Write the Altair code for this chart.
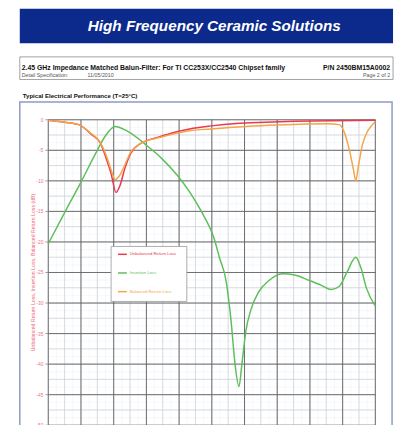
import altair as alt
import pandas as pd
import numpy as np

# ---------------- data ----------------
series_names = ["Unbalanced Return Loss", "Insertion Loss", "Balanced Return Loss"]
series_colors = ["#e8394f", "#5cbf5a", "#f5a447"]

url_freq = [0.50, 0.83, 1.43, 1.82, 2.09, 2.27, 2.42, 2.57, 2.69, 2.84, 3.02, 3.29,
            3.47, 3.83, 4.34, 4.82, 5.48, 6.24, 7.14, 8.04, 9.24, 10.50]
url_db = [-0.1, -0.3, -0.8, -2.4, -3.8, -6.3, -8.8, -11.9, -10.8, -8.0, -5.5, -4.0,
          -3.5, -2.9, -2.1, -1.5, -1.0, -0.6, -0.4, -0.25, -0.15, -0.1]

il_freq = [0.50, 1.04, 1.52, 1.94, 2.24, 2.54, 2.93, 3.53, 3.98, 4.43, 4.82, 5.18, 5.58,
           5.73, 5.94, 6.09, 6.21, 6.33, 6.42, 6.54, 6.69, 6.93, 7.23, 7.65, 8.04,
           8.43, 8.85, 9.15, 9.39, 9.63, 9.90, 10.05, 10.23, 10.50]
il_db = [-20.3, -14.8, -10.0, -5.6, -2.7, -1.1, -1.9, -4.3, -6.4, -9.0, -11.8, -15.0, -19.6,
         -22.5, -26.5, -33.0, -40.0, -43.7, -40.0, -34.6, -31.2, -28.2, -26.4, -25.2, -25.4,
         -26.2, -27.1, -27.8, -27.3, -25.0, -22.5, -24.1, -27.6, -30.5]

brl_freq = [0.50, 0.83, 1.43, 1.82, 2.09, 2.27, 2.42, 2.54, 2.66, 2.84, 3.02, 3.29,
            3.47, 3.83, 4.34, 4.82, 5.48, 6.54, 7.53, 9.03, 9.39, 9.54, 9.69, 9.84,
            9.90, 9.99, 10.11, 10.23, 10.38, 10.50]
brl_db = [-0.1, -0.3, -0.8, -2.3, -3.7, -5.8, -8.2, -9.8, -9.3, -7.4, -5.3, -4.0,
          -3.5, -3.0, -2.3, -1.8, -1.5, -1.1, -0.85, -0.65, -0.8, -1.9, -4.6, -8.4,
          -10.0, -7.3, -4.0, -2.2, -1.0, -0.3]

x_ticks = [0.5, 1.5, 2.5, 3.5, 4.5, 5.5, 6.5, 7.5, 8.5, 9.5, 10.5]
y_ticks = [0, -5, -10, -15, -20, -25, -30, -35, -40, -45, -50]

banner_text = "High Frequency Ceramic Solutions"
spec_title = "2.45 GHz Impedance Matched Balun-Filter: For TI CC253X/CC2540 Chipset family"
spec_pn = "P/N 2450BM15A0002"
spec_detail = "Detail Specification:"
spec_date = "11/05/2010"
spec_page = "Page 2 of 2"
section_title = "Typical Electrical Performance (T=25\u00b0C)"
y_title = "Unbalanced Return Loss, Insertion Loss, Balanced Return Loss (dB)"

# ---------------- build tables ----------------
rows = []
for name, fr, db in [(series_names[0], url_freq, url_db),
                     (series_names[1], il_freq, il_db),
                     (series_names[2], brl_freq, brl_db)]:
    for f, d in zip(fr, db):
        rows.append({"series": name, "freq": f, "db": d})
df = pd.DataFrame(rows)

W = 333          # plot width
H = 311          # full plot height (0 .. -50 dB)
VIEW_H = 307     # part of the chart that fits inside the page
XD = [0.5, 10.5]
YD = [-50, 0]
FONT = "Liberation Sans"

xs = alt.Scale(domain=XD, nice=False, zero=False)
ys = alt.Scale(domain=YD, nice=False, zero=False, range=[H, 0])

one = pd.DataFrame({"k": [0]})


def vgrid(vals, color, width):
    return alt.Chart(pd.DataFrame({"v": vals})).mark_rule(color=color, strokeWidth=width).encode(
        x=alt.X("v:Q", scale=xs, axis=None), y=alt.value(0), y2=alt.value(H))


def hgrid(vals, color, width):
    return alt.Chart(pd.DataFrame({"v": vals})).mark_rule(color=color, strokeWidth=width).encode(
        y=alt.Y("v:Q", scale=ys, axis=None), x=alt.value(0), x2=alt.value(W))


xq = list(np.arange(0.5, 10.51, 0.25))
yq = list(np.arange(-50, 0.01, 1.25))
xh = list(np.arange(0.5, 10.51, 0.5))
yh = list(np.arange(-50, 0.01, 2.5))

grid = [
    vgrid(xq, "#edf0f5", 0.5), hgrid(yq, "#edf0f5", 0.5),
    vgrid(xh, "#c9cfd9", 0.7), hgrid(yh, "#c9cfd9", 0.7),
    vgrid(x_ticks, "#606060", 0.9), hgrid(y_ticks, "#606060", 0.9),
]

# axes drawn by hand (ticks, labels, title)
ydf = pd.DataFrame({"v": y_ticks, "lab": [str(v) for v in y_ticks]})
xdf = pd.DataFrame({"v": x_ticks, "lab": ["%.2f" % v for v in x_ticks]})
axes = [
    alt.Chart(ydf).mark_rule(color="#888", strokeWidth=0.8).encode(
        y=alt.Y("v:Q", scale=ys, axis=None), x=alt.value(-3), x2=alt.value(0)),
    alt.Chart(ydf).mark_text(color="#f07585", fontSize=5, font=FONT, align="right",
                             baseline="middle").encode(
        y=alt.Y("v:Q", scale=ys, axis=None), x=alt.value(-5), text="lab:N"),
    alt.Chart(xdf).mark_rule(color="#999", strokeWidth=0.8).encode(
        x=alt.X("v:Q", scale=xs, axis=None), y=alt.value(H), y2=alt.value(H + 3)),
    alt.Chart(xdf).mark_text(color="#aaa", fontSize=5, font=FONT, align="center",
                             baseline="top").encode(
        x=alt.X("v:Q", scale=xs, axis=None), y=alt.value(H + 4), text="lab:N"),
    alt.Chart(one).mark_text(text=y_title, color="#ee6677", fontSize=5.3, font=FONT, angle=270,
                             align="center", baseline="middle").encode(
        x=alt.value(-16), y=alt.value(H / 2)),
]

lines = alt.Chart(df).mark_line(interpolate="monotone", strokeWidth=1.5).encode(
    x=alt.X("freq:Q", scale=xs, axis=None),
    y=alt.Y("db:Q", scale=ys, axis=None),
    color=alt.Color("series:N", scale=alt.Scale(domain=series_names, range=series_colors),
                    legend=None),
    order=alt.Order("freq:Q"),
)

# legend box (manual)
LX, LY, LX2, LY2 = 64, 129, 141, 185
legend_layers = [
    alt.Chart(one).mark_rect(fill="white", stroke="#9a9a9a", strokeWidth=0.8).encode(
        x=alt.value(LX), x2=alt.value(LX2), y=alt.value(LY), y2=alt.value(LY2))
]
for i, (nm, col) in enumerate(zip(series_names, series_colors)):
    yy = 137 + i * 19
    legend_layers.append(
        alt.Chart(one).mark_rule(color=col, strokeWidth=1.5).encode(
            x=alt.value(71), x2=alt.value(80), y=alt.value(yy)))
    legend_layers.append(
        alt.Chart(one).mark_text(text=nm, color=col, fontSize=4.3, font=FONT,
                                 align="left", baseline="middle").encode(
            x=alt.value(83), y=alt.value(yy)))

# page decorations (relative to plot origin at page 49,118)
deco = [
    alt.Chart(one).mark_rect(fill="none", stroke="#8c9cc2", strokeWidth=1.5).encode(
        x=alt.value(-29), x2=alt.value(350), y=alt.value(-18), y2=alt.value(420)),
    alt.Chart(one).mark_rect(fill="#0b2a8c").encode(
        x=alt.value(-29), x2=alt.value(351), y=alt.value(-113), y2=alt.value(-78)),
    alt.Chart(one).mark_text(text=banner_text, color="white", fontSize=15.5, fontWeight="bold",
                             fontStyle="italic", font=FONT, align="center", baseline="middle").encode(
        x=alt.value(169), y=alt.value(-95)),
    alt.Chart(one).mark_rect(fill="none", stroke="#8a8a8a", strokeWidth=0.8).encode(
        x=alt.value(-29), x2=alt.value(351), y=alt.value(-64), y2=alt.value(-41)),
    alt.Chart(one).mark_text(text=spec_title, color="#111", fontSize=7.0, fontWeight="bold",
                             font=FONT, align="left", baseline="middle").encode(
        x=alt.value(-27), y=alt.value(-53)),
    alt.Chart(one).mark_text(text=spec_pn, color="#111", fontSize=7.0, fontWeight="bold",
                             font=FONT, align="right", baseline="middle").encode(
        x=alt.value(348), y=alt.value(-53)),
    alt.Chart(one).mark_text(text=spec_detail, color="#555", fontSize=5.4,
                             font=FONT, align="left", baseline="middle").encode(
        x=alt.value(-27), y=alt.value(-46)),
    alt.Chart(one).mark_text(text=spec_date, color="#555", fontSize=5.4,
                             font=FONT, align="left", baseline="middle").encode(
        x=alt.value(40), y=alt.value(-46)),
    alt.Chart(one).mark_text(text=spec_page, color="#555", fontSize=5.4,
                             font=FONT, align="right", baseline="middle").encode(
        x=alt.value(348), y=alt.value(-46)),
    alt.Chart(one).mark_text(text=section_title, color="#111", fontSize=6.2, fontWeight="bold",
                             font=FONT, align="left", baseline="middle").encode(
        x=alt.value(-26), y=alt.value(-24)),
]

chart = alt.layer(*deco, *grid, *axes, *legend_layers, lines).properties(
    width=W, height=VIEW_H,
    autosize=alt.AutoSizeParams(type="none"),
    padding={"left": 41, "top": 110, "right": 20, "bottom": 0},
    background="white",
).configure_view(stroke=None)

chart.save("out.html", embed_options={"renderer": "svg", "actions": False})
